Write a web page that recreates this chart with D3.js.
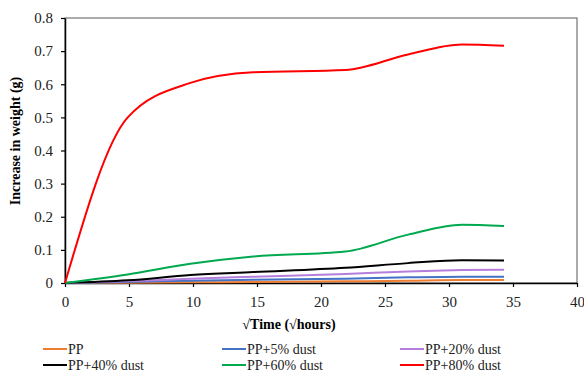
<!DOCTYPE html>
<html>
<head>
<meta charset="utf-8">
<script src="https://cdn.jsdelivr.net/npm/d3@7"></script>
<style>
  body { margin: 0; background: #fff; }
</style>
</head>
<body>
<script>
const width = 584;
const height = 373;
const margin = {top: 18, right: 7, bottom: 90, left: 65};
const font = 'Liberation Serif';

// sqrt(hours) sampling points
const times = [0, 4.9, 9.8, 14.7, 21.9, 26.8, 31, 34.3];
const seriesNames = ['PP', 'PP+5% dust', 'PP+20% dust', 'PP+40% dust', 'PP+60% dust', 'PP+80% dust'];
const seriesColors = ['#ED7D31', '#4472C4', '#B57EDC', '#000000', '#00A84F', '#FF0000'];
const pp = [0, 0.001, 0.002, 0.003, 0.005, 0.007, 0.009, 0.009];
const pp5 = [0, 0.003, 0.007, 0.010, 0.013, 0.017, 0.019, 0.019];
const pp20 = [0, 0.005, 0.013, 0.019, 0.027, 0.035, 0.039, 0.040];
const pp40 = [0, 0.008, 0.024, 0.033, 0.046, 0.060, 0.069, 0.068];
const pp60 = [0, 0.026, 0.058, 0.080, 0.095, 0.146, 0.176, 0.172];
const pp80 = [0, 0.500, 0.604, 0.636, 0.643, 0.690, 0.720, 0.716];
const seriesValues = [pp, pp5, pp20, pp40, pp60, pp80];
const xTicks = [0, 5, 10, 15, 20, 25, 30, 35, 40];
const yTicks = [0, 0.1, 0.2, 0.3, 0.4, 0.5, 0.6, 0.7, 0.8];

const svg = d3.select('body').append('svg')
    .attr('width', width)
    .attr('height', height)
    .attr('font-family', font);

const innerW = width - margin.left - margin.right;
const innerH = height - margin.top - margin.bottom;

const x = d3.scaleLinear().domain([0, 40]).range([0, innerW]);
const y = d3.scaleLinear().domain([0, 0.8]).range([innerH, 0]);

const g = svg.append('g')
    .attr('transform', `translate(${margin.left},${margin.top})`);

// plot border (top / right)
g.append('rect')
    .attr('x', 0).attr('y', 0)
    .attr('width', innerW).attr('height', innerH)
    .attr('fill', 'none')
    .attr('stroke', '#595959')
    .attr('stroke-width', 1);

const xAxis = g.append('g')
    .attr('transform', `translate(0,${innerH})`)
    .call(d3.axisBottom(x).tickValues(xTicks).tickSize(4).tickSizeOuter(0).tickFormat(d3.format('d')));

const yAxis = g.append('g')
    .call(d3.axisLeft(y).tickValues(yTicks).tickSize(4).tickSizeOuter(0)
        .tickFormat(d => d === 0 ? '0' : d3.format('.1f')(d)));

[xAxis, yAxis].forEach(a => {
    a.attr('font-family', font).attr('font-size', 15);
    a.select('.domain').attr('stroke', '#000').attr('stroke-width', 1.5);
    a.selectAll('.tick line').attr('stroke', '#000').attr('stroke-width', 1.2);
    a.selectAll('.tick text')
        .attr('font-family', font)
        .attr('font-size', 15)
        .attr('fill', '#222');
});
xAxis.selectAll('.tick text').attr('y', 13).attr('dy', '0.71em');
yAxis.selectAll('.tick text').attr('x', -12);

// series lines
const line = d3.line()
    .x((d, i) => x(times[i]))
    .y(d => y(d))
    .curve(d3.curveMonotoneX);

g.append('g').selectAll('path')
    .data(seriesValues)
    .join('path')
    .attr('d', d => line(d))
    .attr('fill', 'none')
    .attr('stroke', (d, i) => seriesColors[i])
    .attr('stroke-width', 2);

// axis titles
svg.append('text')
    .attr('x', 289)
    .attr('y', 329)
    .attr('text-anchor', 'middle')
    .attr('font-family', font)
    .attr('font-size', 14)
    .attr('font-weight', 'bold')
    .text('√Time (√hours)');

svg.append('text')
    .attr('transform', 'translate(20,141) rotate(-90)')
    .attr('text-anchor', 'middle')
    .attr('font-family', font)
    .attr('font-size', 14)
    .attr('font-weight', 'bold')
    .text('Increase in weight (g)');

// legend
const colX = [43, 222, 400];
const rowY = [349, 365];
const legend = svg.append('g').selectAll('g')
    .data(seriesNames)
    .join('g')
    .attr('transform', (d, i) => `translate(${colX[i % 3]},${rowY[Math.floor(i / 3)]})`);

legend.append('line')
    .attr('x1', 0).attr('x2', 24)
    .attr('y1', 0).attr('y2', 0)
    .attr('stroke', (d, i) => seriesColors[i])
    .attr('stroke-width', 2);

legend.append('text')
    .attr('x', 25)
    .attr('y', 0)
    .attr('dy', '0.35em')
    .attr('font-family', font)
    .attr('font-size', 14)
    .attr('fill', '#222')
    .text(d => d);
</script>
</body>
</html>
